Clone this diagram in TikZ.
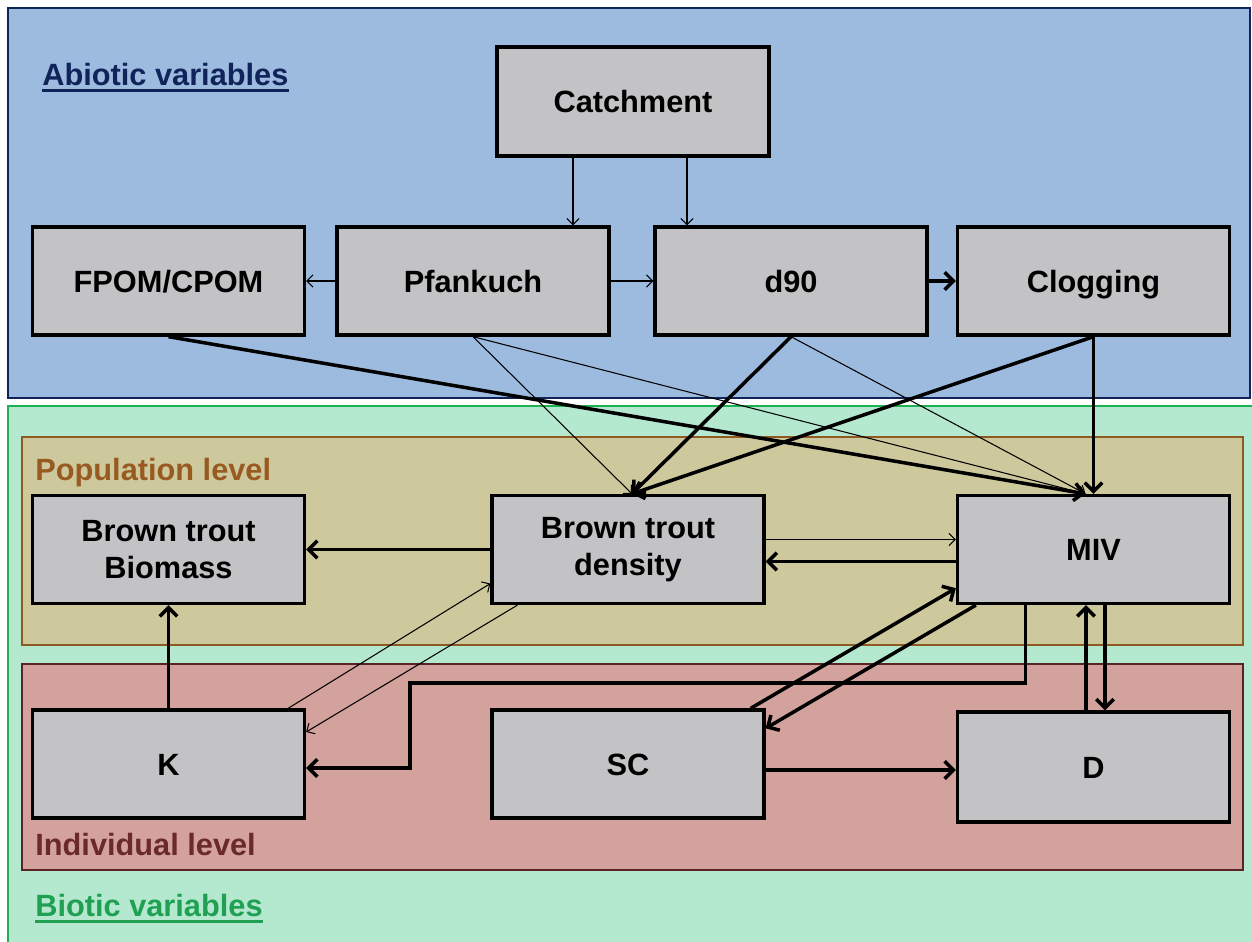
\documentclass[tikz,border=0pt]{standalone}
\usepackage{fontspec}
\setmainfont{Liberation Sans}
\usetikzlibrary{arrows.meta,calc}
\definecolor{abfill}{HTML}{9DBBDF}
\definecolor{abline}{HTML}{10245A}
\definecolor{bifill}{HTML}{B5E9CF}
\definecolor{biline}{HTML}{1EB055}
\definecolor{bitext}{HTML}{1FA052}
\definecolor{popfill}{HTML}{CEC99C}
\definecolor{popline}{HTML}{8E5A22}
\definecolor{poptext}{HTML}{985A20}
\definecolor{indfill}{HTML}{D3A29D}
\definecolor{indline}{HTML}{5A2424}
\definecolor{indtext}{HTML}{6B2A2A}
\definecolor{boxfill}{HTML}{C3C3C6}
\begin{document}
\begin{tikzpicture}[x=0.02cm,y=-0.02cm,
  vbox/.style={draw=black,fill=boxfill,line width=1.9pt,minimum width=5.44cm,minimum height=2.16cm,
    align=center,font=\fontsize{17.5}{21}\selectfont\bfseries,inner sep=0pt},
  one/.style={text height=12.6pt,text depth=0pt},
  thinarr/.style={line width=0.6pt,-{Straight Barb[length=3.5pt,width=7pt]}},
  thickarr/.style={line width=2pt,-{Straight Barb[length=5pt,width=10pt]}},
  lbl/.style={anchor=base west,font=\fontsize{17.5}{21}\selectfont\bfseries,inner sep=0pt}]
\def\u{0.02cm}
\useasboundingbox (0,0) rectangle (1252,941);
\fill[white] (0,0) rectangle (1252,941);
% panels
\draw[fill=abfill,draw=abline,line width=1.5pt] (8,8) rectangle (1250,398);
\draw[fill=bifill,draw=biline,line width=1.5pt] (8,406) rectangle (1256,948);
\draw[fill=popfill,draw=popline,line width=1.5pt] (22,437) rectangle (1243,645);
\draw[fill=indfill,draw=indline,line width=1.5pt] (22,664) rectangle (1243,870);
% labels
\node[lbl,text=abline] (labab) at (42,85) {Abiotic variables};
\draw[abline,line width=1.6pt] ([yshift=-3.2pt]labab.base west) -- ([yshift=-3.2pt]labab.base east);
\node[lbl,text=poptext] (labpop) at (35,480) {Population level};
\node[lbl,text=indtext] (labind) at (35,855) {Individual level};
\node[lbl,text=bitext] (labbi) at (35,916) {Biotic variables};
\draw[bitext,line width=1.6pt] ([yshift=-3.2pt]labbi.base west) -- ([yshift=-3.2pt]labbi.base east);
% nodes
\node[vbox,one,minimum height=2.18cm] (Catch) at (633,101.5) {Catchment};
\node[vbox,one] (FP) at (168.5,281) {FPOM/CPOM};
\node[vbox,one] (Pf) at (473,281) {Pfankuch};
\node[vbox,one] (d90) at (791,281) {d90};
\node[vbox,one] (Clog) at (1093.5,281) {Clogging};
\node[vbox] (Bio) at (168.5,549.5) {Brown trout\\Biomass};
\node[vbox] (Den) at (628,549.5) {Brown trout\\density};
\node[vbox,one] (MIV) at (1093.5,549.5) {MIV};
\node[vbox,one] (K) at (168.5,764) {K};
\node[vbox,one] (SC) at (628,764) {SC};
\node[vbox,one,minimum height=2.2cm] (D) at (1093.5,767) {D};
% abiotic arrows
\draw[thinarr] ([xshift=-60*\u]Catch.south) -- ([xshift=100*\u]Pf.north);
\draw[thinarr] ([xshift=54*\u]Catch.south) -- ([xshift=-104*\u]d90.north);
\draw[thinarr] (Pf.west) -- (FP.east);
\draw[thinarr] (Pf.east) -- (d90.west);
\draw[thickarr] (d90.east) -- (Clog.west);
% abiotic to biotic
\draw[thickarr] (FP.south) -- ([xshift=-8*\u]MIV.north);
\draw[thinarr] (Pf.south) -- ([xshift=4*\u]Den.north);
\draw[thinarr] (Pf.south) -- ([xshift=-8*\u]MIV.north);
\draw[thickarr] (d90.south) -- ([xshift=4*\u]Den.north);
\draw[thinarr] (d90.south) -- ([xshift=-8*\u]MIV.north);
\draw[thickarr] (Clog.south) -- ([xshift=4*\u]Den.north);
\draw[thickarr] (Clog.south) -- (MIV.north);
% population level
\draw[thickarr] (Den.west) -- (Bio.east);
\draw[thinarr] ([yshift=10*\u]Den.east) -- ([yshift=10*\u]MIV.west);
\draw[thickarr] ([yshift=-12*\u]MIV.west) -- ([yshift=-12*\u]Den.east);
% individual level
\draw[thickarr] (K.north) -- (Bio.south);
\draw[thinarr] ([xshift=-18*\u]K.north east) -- ([yshift=-34*\u]Den.west);
\draw[thinarr] ([xshift=27*\u]Den.south west) -- ([yshift=32*\u]K.east);
\draw[thickarr] ([xshift=-68*\u]MIV.south) |- (410,683) |- ([yshift=-4*\u]K.east);
\draw[thickarr] ([xshift=-15*\u]SC.north east) -- ([yshift=17*\u]MIV.south west);
\draw[thickarr] ([xshift=20*\u]MIV.south west) -- ([yshift=-20*\u]SC.north east);
\draw[thickarr] ([xshift=11.5*\u]MIV.south) -- ([xshift=11.5*\u]D.north);
\draw[thickarr] ([xshift=-7.5*\u]D.north) -- ([xshift=-7.5*\u]MIV.south);
\draw[thickarr] ([yshift=-6*\u]SC.east) -- ([yshift=-6*\u]SC.east -| D.west);
\end{tikzpicture}
\end{document}
